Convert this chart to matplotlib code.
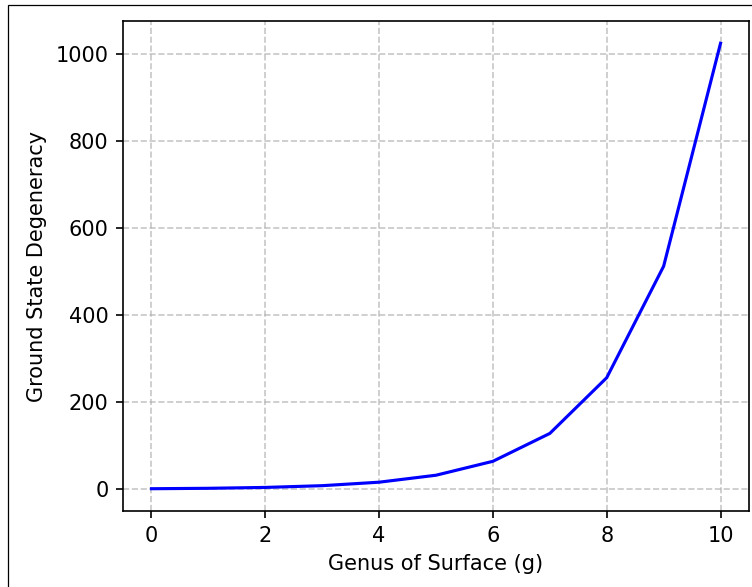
import matplotlib
matplotlib.use("Agg")
import matplotlib.pyplot as plt
from matplotlib.patches import Rectangle

# genus g and ground state degeneracy 2^g
genus = [0, 1, 2, 3, 4, 5, 6, 7, 8, 9, 10]
degeneracy = [1, 2, 4, 8, 16, 32, 64, 128, 256, 512, 1024]

fig = plt.figure(figsize=(752 / 150, 587 / 150), dpi=150)
ax = fig.add_axes([123 / 752, 1 - 511 / 587, 626 / 752, 490 / 587])

ax.plot(genus, degeneracy, color='b', linewidth=1.5)
ax.set_xlabel('Genus of Surface (g)')
ax.set_ylabel('Ground State Degeneracy')
ax.grid(True, linestyle='--', alpha=0.7)

# thin frame of the screenshot (only left/top visible)
fig.patches.append(Rectangle((8 / 752, -0.2), 1.2, 1.2 - 5 / 587 + 0.0,
                             transform=fig.transFigure, fill=False,
                             edgecolor='black', linewidth=0.6))

fig.savefig('out.png', dpi=150)
